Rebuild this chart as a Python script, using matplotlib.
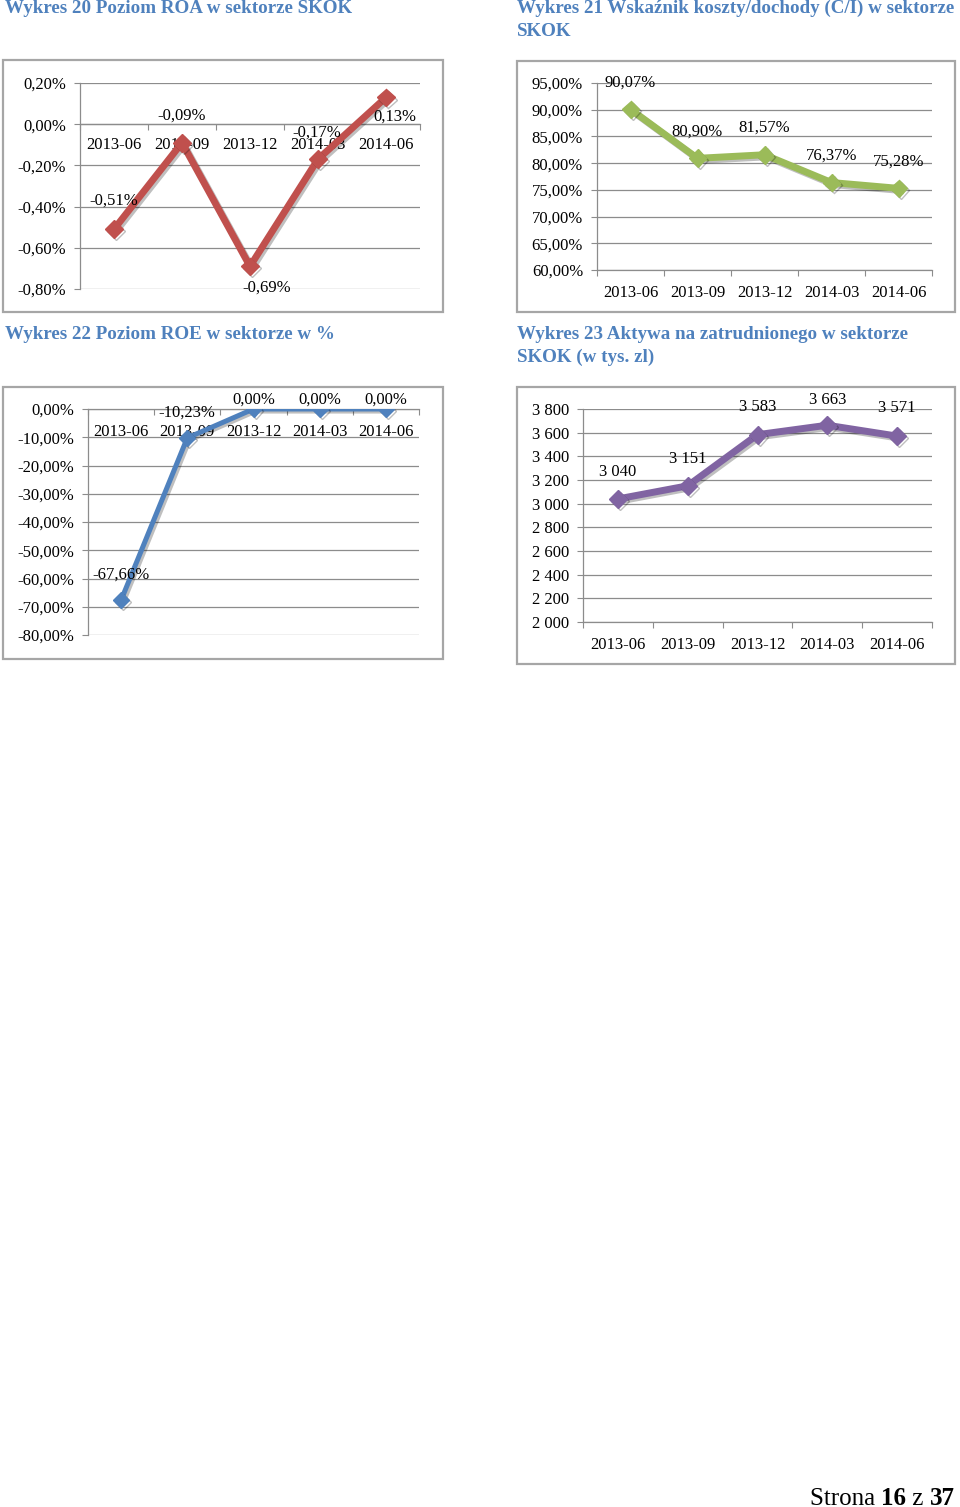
import matplotlib
matplotlib.use('Agg')
import matplotlib.pyplot as plt
from matplotlib.patches import Rectangle
from matplotlib.ticker import FuncFormatter
import matplotlib.patheffects as pe

plt.rcParams['font.family'] = ['Liberation Serif', 'DejaVu Serif']

# ---------------- data ----------------
categories = ['2013-06', '2013-09', '2013-12', '2014-03', '2014-06']
roa = [-0.51, -0.09, -0.69, -0.17, 0.13]          # Wykres 20 (%)
ci_ratio = [90.07, 80.90, 81.57, 76.37, 75.28]    # Wykres 21 (%)
roe = [-67.66, -10.23, 0.00, 0.00, 0.00]          # Wykres 22 (%)
assets = [3040, 3151, 3583, 3663, 3571]           # Wykres 23 (tys. zl)

roa_ticks = [0.20, 0.00, -0.20, -0.40, -0.60, -0.80]
ci_ticks = [95, 90, 85, 80, 75, 70, 65, 60]
roe_ticks = [0, -10, -20, -30, -40, -50, -60, -70, -80]
assets_ticks = [3800, 3600, 3400, 3200, 3000, 2800, 2600, 2400, 2200, 2000]

titles = [
    'Wykres 20 Poziom ROA w sektorze SKOK',
    'Wykres 21 Wskaźnik koszty/dochody (C/I) w sektorze\nSKOK',
    'Wykres 22 Poziom ROE w sektorze w %',
    'Wykres 23 Aktywa na zatrudnionego w sektorze\nSKOK (w tys. zl)',
]

# ---------------- layout ----------------
W, H = 960, 1507
fig = plt.figure(figsize=(W / 100, H / 100), dpi=100)
fig.patch.set_facecolor('white')

GRID = '#8C8C8C'
FRAME = '#A6A6A6'
TITLE_C = '#4F81BD'


def frect(l, t, r, b):
    return [l / W, 1 - b / H, (r - l) / W, (b - t) / H]


def pct(v):
    return ('%.2f' % v).replace('.', ',') + '%'


def thousands(v):
    return '{:,.0f}'.format(v).replace(',', ' ')


def chart(frame, axbox, values, color, lw, ms, ylim, yticks, yfmt, xpad,
          cross_zero):
    l, t, r, b = frame
    fig.patches.append(Rectangle((l / W, 1 - b / H), (r - l) / W, (b - t) / H,
                                 transform=fig.transFigure, fill=False,
                                 edgecolor=FRAME, lw=1.6, zorder=0))
    ax = fig.add_axes(frect(*axbox))
    ax.set_facecolor('none')
    x = list(range(len(categories)))
    ax.plot(x, values, color=color, lw=lw, marker='D', ms=ms, mfc=color,
            mec=color, zorder=3, solid_joinstyle='miter',
            path_effects=[pe.SimpleLineShadow(offset=(1.5, -1.5),
                                              shadow_color='k', alpha=0.25),
                          pe.Normal()])
    ax.set_xlim(-0.5, len(categories) - 0.5)
    ax.set_ylim(*ylim)
    ax.set_yticks(yticks)
    ax.yaxis.set_major_formatter(FuncFormatter(lambda v, p: yfmt(v)))
    ax.set_xticks(x)
    ax.set_xticklabels(categories)
    ax.set_xticks([i - 0.5 for i in range(len(categories) + 1)], minor=True)
    ax.tick_params(axis='x', which='major', length=0, pad=xpad, labelsize=12)
    ax.tick_params(axis='x', which='minor', length=4, width=0.8, color=GRID,
                   direction='out')
    ax.tick_params(axis='y', length=4, width=0.8, color=GRID, pad=6,
                   labelsize=12)
    ax.grid(axis='y', color=GRID, lw=0.9)
    ax.set_axisbelow(True)
    for s in ('top', 'right'):
        ax.spines[s].set_visible(False)
    for s in ('left', 'bottom'):
        ax.spines[s].set_color(GRID)
        ax.spines[s].set_linewidth(0.9)
    if cross_zero:
        ax.spines['bottom'].set_position(('data', 0))
    return ax


def labels(ax, values, fmt, offsets):
    for i, (v, (dx, dy)) in enumerate(zip(values, offsets)):
        ax.annotate(fmt(v), (i, v), xytext=(dx, dy), textcoords='offset pixels',
                    ha='center', va='center', fontsize=12, zorder=5)


# Wykres 20
ax1 = chart((3, 60, 443, 312), (80, 83, 420, 289), roa, '#C0504D', 5.0, 9,
            (-0.8, 0.2), roa_ticks, pct, 9, True)
labels(ax1, roa, pct, [(0, 29), (0, 27), (17, -21), (-1, 27), (9, -19)])

# Wykres 21
ax2 = chart((517, 61, 955, 312), (597, 83, 932, 270), ci_ratio, '#9BBB59',
            5.0, 9, (60, 95), ci_ticks, pct, 10.5, False)
labels(ax2, ci_ratio, pct, [(0, 27)] * 5)

# Wykres 22
ax3 = chart((3, 387, 443, 659), (88, 409, 419, 635), roe, '#4F81BD', 3.6, 8,
            (-80, 0), roe_ticks, pct, 11, True)
labels(ax3, roe, pct, [(0, 25), (0, 25), (0, 9), (0, 9), (0, 9)])

# Wykres 23
ax4 = chart((517, 387, 955, 664), (583, 409, 932, 622), assets, '#8064A2',
            5.0, 9, (2000, 3800), assets_ticks, thousands, 10.5, False)
labels(ax4, assets, thousands, [(0, 27), (0, 27), (0, 28), (0, 25), (0, 28)])

# titles
for (px, py), txt in zip([(5, 0), (517, 0), (5, 326), (517, 326)], titles):
    fig.text(px / W, 1 - py / H, txt, ha='left', va='top', fontsize=13.7,
             fontweight='bold', color=TITLE_C, linespacing=1.4)

# footer "Strona 16 z 37"
renderer = fig.canvas.get_renderer()
parts = [('37', 'bold'), (' z ', 'normal'), ('16', 'bold'), ('Strona ', 'normal')]
xr = 955
for txt, wgt in parts:
    t = fig.text(xr / W, 1 - 1505 / H, txt, ha='right', va='baseline',
                 fontsize=18, fontweight=wgt, color='black')
    bb = t.get_window_extent(renderer)
    xr -= bb.width

fig.savefig('out.png', dpi=100, facecolor='white')
